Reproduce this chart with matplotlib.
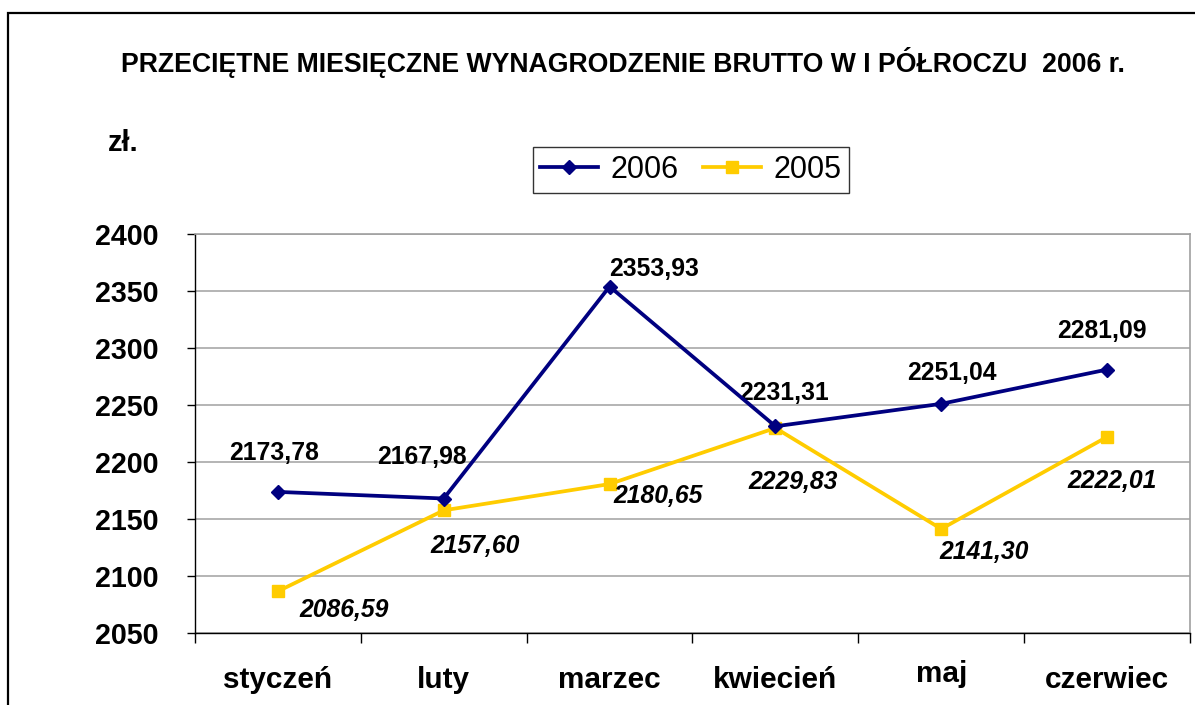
import matplotlib
matplotlib.use("Agg")
import matplotlib.pyplot as plt
from matplotlib.patches import Rectangle
from matplotlib.transforms import ScaledTranslation

months = ["styczeń", "luty", "marzec", "kwiecień", "maj", "czerwiec"]
wages_2006 = [2173.78, 2167.98, 2353.93, 2231.31, 2251.04, 2281.09]
wages_2005 = [2086.59, 2157.60, 2180.65, 2229.83, 2141.30, 2222.01]
y_ticks = [2050, 2100, 2150, 2200, 2250, 2300, 2350, 2400]

# label offsets in pixels (dx, dy) relative to the point
offs_2006 = [(-4, 39), (-22, 42), (44, 18), (9, 33), (11, 31), (-5, 39)]
offs_2005 = [(66, -19), (31, -36), (48, -12), (18, -54), (43, -23), (5, -44)]

NAVY = "#000080"
YELLOW = "#FFCC00"

plt.rcParams["font.family"] = ["Liberation Sans", "DejaVu Sans"]

W, H = 1195, 705
fig = plt.figure(figsize=(W / 100, H / 100), dpi=100)
ax = fig.add_axes([195 / W, 1 - 633 / H, (1190 - 195) / W, (633 - 234) / H])

x = list(range(len(months)))
ax.plot(x, wages_2006, color=NAVY, lw=2.7, marker="D", ms=7, label="2006", zorder=4)
ax.plot(x, wages_2005, color=YELLOW, lw=2.7, marker="s", ms=8, label="2005", zorder=3)

for xi, v, (dx, dy) in zip(x, wages_2006, offs_2006):
    ax.annotate(f"{v:.2f}".replace(".", ","), (xi, v), xytext=(dx, dy),
                textcoords="offset pixels", ha="center", va="center",
                fontsize=17.8, fontweight="bold")
for xi, v, (dx, dy) in zip(x, wages_2005, offs_2005):
    ax.annotate(f"{v:.2f}".replace(".", ","), (xi, v), xytext=(dx, dy),
                textcoords="offset pixels", ha="center", va="center",
                fontsize=17.8, fontweight="bold", fontstyle="italic")

ax.set_xlim(-0.5, len(months) - 0.5)
ax.set_ylim(y_ticks[0], y_ticks[-1])
ax.set_yticks(y_ticks)
ax.set_yticklabels([str(t) for t in y_ticks], fontsize=20.6, fontweight="bold")
ax.tick_params(axis="y", length=6, width=1, pad=20)

# category boundaries as major ticks, names on minor ticks
ax.set_xticks([i - 0.5 for i in range(len(months) + 1)])
ax.set_xticklabels([])
ax.set_xticks(x, minor=True)
ax.set_xticklabels(months, minor=True, fontsize=21.4, fontweight="bold")
ax.tick_params(axis="x", which="major", length=7, width=1)
ax.tick_params(axis="x", which="minor", length=0, pad=24)
for lab in ax.get_xticklabels(minor=True):
    if lab.get_text() == "maj":
        lab.set_transform(lab.get_transform() + ScaledTranslation(0, 6 / 100, fig.dpi_scale_trans))

ax.grid(axis="y", color="#a0a0a0", lw=1.1)
ax.set_axisbelow(True)
for s in ("top", "right"):
    ax.spines[s].set_color("#a0a0a0")
    ax.spines[s].set_linewidth(1.2)
for s in ("left", "bottom"):
    ax.spines[s].set_color("black")
    ax.spines[s].set_linewidth(1)

fig.text(623 / W, 1 - 62 / H, "PRZECIĘTNE MIESIĘCZNE WYNAGRODZENIE BRUTTO W I PÓŁROCZU  2006 r.",
         ha="center", va="center", fontsize=19.2, fontweight="bold")
fig.text(123 / W, 1 - 143 / H, "zł.", ha="center", va="center", fontsize=21, fontweight="bold")

leg = fig.legend(loc="center", bbox_to_anchor=(691 / W, 1 - 170 / H), ncol=2,
                 fontsize=22, frameon=True, fancybox=False, handlelength=1.9,
                 columnspacing=0.8, handletextpad=0.4, borderpad=0.25)
leg.get_frame().set_edgecolor("black")
leg.get_frame().set_linewidth(1)

# outer chart frame (only left and top edges are visible)
fig.patches.append(Rectangle((8 / W, -0.1), 1.2, 1 - 13 / H + 0.1, transform=fig.transFigure,
                             fill=False, edgecolor="black", lw=1.6))

fig.savefig("out.png", dpi=100)
